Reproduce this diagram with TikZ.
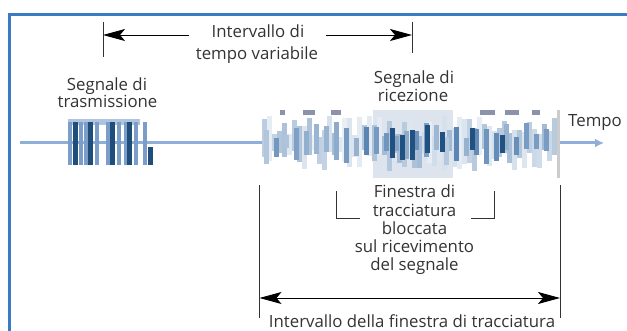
\documentclass[tikz,border=0pt]{standalone}
\usepackage{fontspec}
\setmainfont{Open Sans}
\usetikzlibrary{arrows.meta}
\definecolor{frameblue}{HTML}{3B7BC4}
\definecolor{textgray}{HTML}{333333}
\definecolor{basecol}{HTML}{8FAFD8}
\definecolor{sigdark}{HTML}{1F4E7A}
\definecolor{sigmid}{HTML}{5A86BA}
\definecolor{siglight}{HTML}{AFC4DF}
\definecolor{sigblue}{HTML}{2F65A0}
\definecolor{hlbox}{HTML}{DDE4EE}
\definecolor{topgray}{HTML}{8A92AC}
\definecolor{tickgray}{HTML}{333333}
\begin{document}
\begin{tikzpicture}[x=1pt,y=-1pt,
  txt/.style={text=textgray, font=\fontsize{16.8}{18}\selectfont, inner sep=0, anchor=base},
  tick/.style={draw=tickgray, line width=1pt},
  dim/.style={draw=black, line width=0.9pt, -{Stealth[length=22pt,width=12pt,inset=5pt]}},
  dimboth/.style={draw=black, line width=0.9pt, {Stealth[length=22pt,width=12pt,inset=5pt]}-{Stealth[length=22pt,width=12pt,inset=5pt]}},
  frameline/.style={draw=frameblue, line width=2.5pt},
  bracket/.style={draw=tickgray, line width=0.9pt}]
\useasboundingbox (0,0) rectangle (627,331);
% frame
\coordinate (f0) at (9.5,331);
\coordinate (f1) at (9.5,14.5);
\coordinate (f2) at (627,14.5);
\draw[frameline] (f0) -- (f1) -- (f2);

% signal baseline
\coordinate (b0) at (20,143);
\coordinate (b1) at (604,143);
\draw[draw=basecol, line width=3pt, -{Latex[length=9pt,width=9pt]}] (b0) -- (b1);

% highlight box
\fill[hlbox] (373,110) rectangle (453,178);

% transmission burst
\fill[siglight] (68,119) rectangle (140,125);
\foreach \x in {68,79,84,95,106,117,124,134,143} {\fill[sigmid!80!white] (\x,122) rectangle (\x+4,165);}
\foreach \x in {73,88,110,127} {\fill[sigdark] (\x,122) rectangle (\x+5,165);}
\fill[sigdark] (148,147) rectangle (153,165);

% receive signal
\pgfmathsetseed{17}
\foreach \i in {0,...,58} {
  \pgfmathsetmacro\xx{262+5*\i}
  \pgfmathsetmacro\tt{143-6-22*rnd}
  \pgfmathsetmacro\bb{143+6+22*rnd}
  \pgfmathsetmacro\ss{10+35*rnd}
  \fill[sigblue!\ss!white] (\xx,\tt) rectangle (\xx+5,\bb);
}
\pgfmathsetseed{5}
\foreach \i in {0,...,28} {
  \pgfmathsetmacro\xx{264+10*\i}
  \pgfmathsetmacro\tt{143-4-18*rnd}
  \pgfmathsetmacro\bb{143+4+18*rnd}
  \pgfmathsetmacro\ss{35+45*rnd}
  \fill[sigblue!\ss!white] (\xx,\tt) rectangle (\xx+5,\bb);
}
\foreach \x/\y/\h in {390/128/30, 400/135/25, 410/130/30, 425/125/28, 440/132/20, 470/128/22, 500/135/18} {
  \fill[sigdark!85!sigblue] (\x,\y) rectangle (\x+5,\y+\h);
}
\foreach \x/\w in {303/12,331/10,280/5,480/15,505/14,532/8} {
  \fill[topgray] (\x,110) rectangle (\x+\w,115);
}
\fill[black!20] (557,110) rectangle (560,178);

% top labels and dimension
\node[txt] (tv1) at (258,38) {Intervallo di};
\node[txt] (tv2) at (257,60) {tempo variabile};
\coordinate (t1a) at (103,22); \coordinate (t1b) at (103,57);
\coordinate (t2a) at (412,22); \coordinate (t2b) at (412,53);
\draw[tick] (t1a) -- (t1b);
\draw[tick] (t2a) -- (t2b);
\coordinate (al) at (103,35); \coordinate (alt) at (189,35);
\coordinate (ar) at (412,35); \coordinate (art) at (326,35);
\draw[dim] (alt) -- (al);
\draw[dim] (art) -- (ar);

\node[txt] (tx1) at (107,91) {Segnale di};
\node[txt] (tx2) at (107.5,108) {trasmissione};
\node[txt] (rx1) at (414,84) {Segnale di};
\node[txt] (rx2) at (413,102) {ricezione};
\node[txt, anchor=base west] (tempo) at (568,127) {Tempo};

% tracking window bracket
\node[txt] (fin1) at (414.5,198) {Finestra di};
\node[txt] (fin2) at (414.5,216.5) {tracciatura};
\node[txt] (fin3) at (414.5,235) {bloccata};
\node[txt] (fin4) at (414.5,253) {sul ricevimento};
\node[txt] (fin5) at (414.5,271) {del segnale};
\coordinate (bl0) at (336,191); \coordinate (bl1) at (336,218); \coordinate (bl2) at (360,218);
\coordinate (br0) at (494,191); \coordinate (br1) at (494,218); \coordinate (br2) at (471,218);
\draw[bracket] (bl0) -- (bl1) -- (bl2);
\draw[bracket] (br0) -- (br1) -- (br2);

% bottom dimension
\coordinate (l0) at (259,185); \coordinate (l1) at (259,318);
\coordinate (r0) at (560.5,185); \coordinate (r1) at (560.5,318);
\draw[tick] (l0) -- (l1);
\draw[tick] (r0) -- (r1);
\coordinate (dl) at (259.5,298); \coordinate (dr) at (560,298);
\draw[dimboth] (dl) -- (dr);
\node[txt] (iw) at (412,327) {Intervallo della finestra di tracciatura};
\end{tikzpicture}
\end{document}
